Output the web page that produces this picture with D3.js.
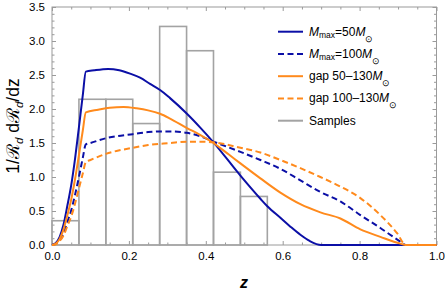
<!DOCTYPE html>
<html>
<head>
<meta charset="utf-8">
<script src="https://cdn.jsdelivr.net/npm/d3@7"></script>
<style>
  body { margin: 0; background: #fff; }
  svg { display: block; font-family: "Liberation Sans", Arial, sans-serif; }
</style>
</head>
<body>
<div id="chart"></div>
<script>
// histogram of samples (bin edges and density heights)
const binEdges = [0, 0.07, 0.14, 0.21, 0.28, 0.35, 0.42, 0.49, 0.56];
const binDensity = [0.357, 2.143, 2.143, 1.786, 3.214, 2.857, 1.071, 0.714];

// model curves, [z, 1/R dR/dz]
const mmax50 = [[0,0],[0.01,0.03],[0.02,0.12],[0.03,0.3],[0.04,0.58],[0.05,0.88],[0.06,1.27],[0.07,1.73],[0.08,2.2],[0.088,2.55],
  [0.11,2.57],[0.146,2.59],[0.175,2.57],[0.203,2.52],[0.229,2.46],[0.255,2.37],[0.281,2.28],[0.307,2.16],[0.351,1.93],[0.385,1.73],
  [0.42,1.51],[0.49,1.02],[0.542,0.68],[0.56,0.57],[0.594,0.4],[0.62,0.27],[0.646,0.15],[0.67,0.06],[0.7,0],[1,0]];
const mmax100 = [[0,0],[0.01,0.02],[0.02,0.07],[0.03,0.17],[0.04,0.34],[0.05,0.51],[0.06,0.74],[0.07,1.0],[0.08,1.28],[0.088,1.48],
  [0.1,1.5],[0.14,1.57],[0.21,1.63],[0.25,1.66],[0.281,1.67],[0.307,1.67],[0.35,1.65],[0.385,1.6],[0.42,1.52],
  [0.49,1.37],[0.542,1.25],[0.594,1.12],[0.646,0.95],[0.698,0.78],[0.75,0.64],[0.802,0.44],[0.854,0.25],[0.906,0.05],[0.92,0],[1,0]];
const gap50 = [[0,0],[0.01,0.02],[0.02,0.09],[0.03,0.23],[0.04,0.44],[0.05,0.67],[0.06,0.97],[0.07,1.32],[0.08,1.68],[0.088,1.95],
  [0.12,1.99],[0.15,2.02],[0.186,2.03],[0.22,2.01],[0.25,1.98],[0.281,1.93],[0.307,1.86],[0.351,1.72],[0.385,1.62],[0.42,1.5],
  [0.46,1.33],[0.49,1.2],[0.542,0.98],[0.594,0.77],[0.646,0.6],[0.698,0.48],[0.75,0.39],[0.802,0.23],[0.854,0.12],[0.906,0.02],[0.92,0],[1,0]];
const gap100 = [[0,0],[0.01,0.01],[0.02,0.06],[0.03,0.14],[0.04,0.28],[0.05,0.42],[0.06,0.61],[0.07,0.83],[0.08,1.05],[0.088,1.22],
  [0.1,1.25],[0.14,1.34],[0.21,1.43],[0.25,1.47],[0.307,1.5],[0.35,1.52],[0.385,1.52],[0.42,1.51],
  [0.49,1.43],[0.542,1.36],[0.594,1.25],[0.646,1.13],[0.698,1.0],[0.75,0.86],[0.802,0.69],[0.854,0.44],[0.898,0.17],[0.92,0],[1,0]];

const xTicks = [0, 0.2, 0.4, 0.6, 0.8, 1.0];
const yTicks = [0, 0.5, 1.0, 1.5, 2.0, 2.5, 3.0, 3.5];

const blue = "#0b0fa6", orange = "#ff8a1c", gray = "#a3a3a3";

const series = [
  { data: mmax50, color: blue, dash: null, label: ["M", "max", "=50", "M"] },
  { data: mmax100, color: blue, dash: "6,3.5", label: ["M", "max", "=100", "M"] },
  { data: gap50, color: orange, dash: null, label: ["gap 50\u2013130", "M"] },
  { data: gap100, color: orange, dash: "6,3.5", label: ["gap 100\u2013130", "M"] }
];

const width = 445, height = 295;
const margin = { top: 7, right: 8.5, bottom: 50, left: 52 };

const svg = d3.select("#chart").append("svg").attr("width", width).attr("height", height);

const x = d3.scaleLinear().domain([0, 1]).range([margin.left, width - margin.right]);
const y = d3.scaleLinear().domain([0, 3.5]).range([height - margin.bottom, margin.top]);

const minorX = d3.range(0, 1.0001, 0.05).filter(v => Math.abs(v * 5 - Math.round(v * 5)) > 1e-6);
const minorY = d3.range(0, 3.5001, 0.1).filter(v => Math.abs(v * 2 - Math.round(v * 2)) > 1e-6);

function styleAxis(g) {
  g.select(".domain").remove();
  g.selectAll("line").attr("stroke", "#9a9a9a");
  g.selectAll("text").attr("fill", "#000").style("font-size", "11.5px").style("font-family", "Liberation Sans, Arial, sans-serif");
}

// frame ticks, pointing inward on all four sides
svg.append("g").attr("transform", `translate(0,${y(0)})`)
  .call(d3.axisBottom(x).tickValues(xTicks).tickFormat(d3.format(".1f")).tickSize(-4).tickPadding(7)).call(styleAxis);
svg.append("g").attr("transform", `translate(0,${y(0)})`)
  .call(d3.axisBottom(x).tickValues(minorX).tickFormat("").tickSize(-2.5)).call(styleAxis);
svg.append("g").attr("transform", `translate(0,${y(3.5)})`)
  .call(d3.axisTop(x).tickValues(xTicks).tickFormat("").tickSize(-4)).call(styleAxis);
svg.append("g").attr("transform", `translate(0,${y(3.5)})`)
  .call(d3.axisTop(x).tickValues(minorX).tickFormat("").tickSize(-2.5)).call(styleAxis);
svg.append("g").attr("transform", `translate(${x(0)},0)`)
  .call(d3.axisLeft(y).tickValues(yTicks).tickFormat(d3.format(".1f")).tickSize(-4).tickPadding(7)).call(styleAxis);
svg.append("g").attr("transform", `translate(${x(0)},0)`)
  .call(d3.axisLeft(y).tickValues(minorY).tickFormat("").tickSize(-2.5)).call(styleAxis);
svg.append("g").attr("transform", `translate(${x(1)},0)`)
  .call(d3.axisRight(y).tickValues(yTicks).tickFormat("").tickSize(-4)).call(styleAxis);
svg.append("g").attr("transform", `translate(${x(1)},0)`)
  .call(d3.axisRight(y).tickValues(minorY).tickFormat("").tickSize(-2.5)).call(styleAxis);

svg.append("rect")
  .attr("x", x(0)).attr("y", y(3.5))
  .attr("width", x(1) - x(0)).attr("height", y(0) - y(3.5))
  .attr("fill", "none").attr("stroke", "#9a9a9a").attr("stroke-width", 1);

// histogram
svg.append("g").selectAll("rect").data(binDensity).join("rect")
  .attr("x", (d, i) => x(binEdges[i]))
  .attr("y", d => y(d))
  .attr("width", (d, i) => x(binEdges[i + 1]) - x(binEdges[i]))
  .attr("height", d => y(0) - y(d))
  .attr("fill", "none")
  .attr("stroke", gray)
  .attr("stroke-width", 1.6);

// curves
const line = d3.line().x(d => x(d[0])).y(d => y(d[1])).curve(d3.curveMonotoneX);
svg.append("g").selectAll("path").data(series).join("path")
  .attr("d", d => line(d.data))
  .attr("fill", "none")
  .attr("stroke", d => d.color)
  .attr("stroke-width", 2)
  .attr("stroke-dasharray", d => d.dash);

// axis titles
svg.append("text")
  .attr("x", 244).attr("y", 288)
  .attr("text-anchor", "middle")
  .style("font-size", "16px").style("font-style", "italic").style("font-weight", "bold")
  .text("z");

const yt = svg.append("text")
  .attr("transform", "translate(19,126) rotate(-90)")
  .attr("text-anchor", "middle")
  .style("font-size", "17.5px");
yt.append("tspan").text("1/\u211B");
yt.append("tspan").attr("dy", 3.5).style("font-size", "11.5px").style("font-style", "italic").text("d");
yt.append("tspan").attr("dy", -3.5).text(" d\u211B");
yt.append("tspan").attr("dy", 3.5).style("font-size", "11.5px").style("font-style", "italic").text("d");
yt.append("tspan").attr("dy", -3.5).text("/dz");

// legend
const legend = svg.append("g");
const rowY = [31.7, 54, 76.2, 98.4, 120.7];
const legendItems = series.map(s => s).concat([{ color: gray, dash: null, label: null }]);
legendItems.forEach((s, i) => {
  legend.append("line")
    .attr("x1", 278).attr("x2", 303)
    .attr("y1", rowY[i]).attr("y2", rowY[i])
    .attr("stroke", s.color).attr("stroke-width", 2)
    .attr("stroke-dasharray", s.dash);
  const t = legend.append("text").attr("x", 309).attr("y", rowY[i] + 4).style("font-size", "12px");
  if (!s.label) { t.text("Samples"); return; }
  if (s.label.length === 4) {
    t.append("tspan").style("font-style", "italic").text(s.label[0]);
    t.append("tspan").attr("dy", 2).style("font-size", "8.5px").text(s.label[1]);
    t.append("tspan").attr("dy", -2).text(s.label[2]);
    t.append("tspan").style("font-style", "italic").text(s.label[3]);
  } else {
    t.append("tspan").text(s.label[0]);
    t.append("tspan").style("font-style", "italic").text(s.label[1]);
  }
  t.append("tspan").attr("dy", 6).style("font-size", "8.5px").text("\u2299");
});
</script>
</body>
</html>
